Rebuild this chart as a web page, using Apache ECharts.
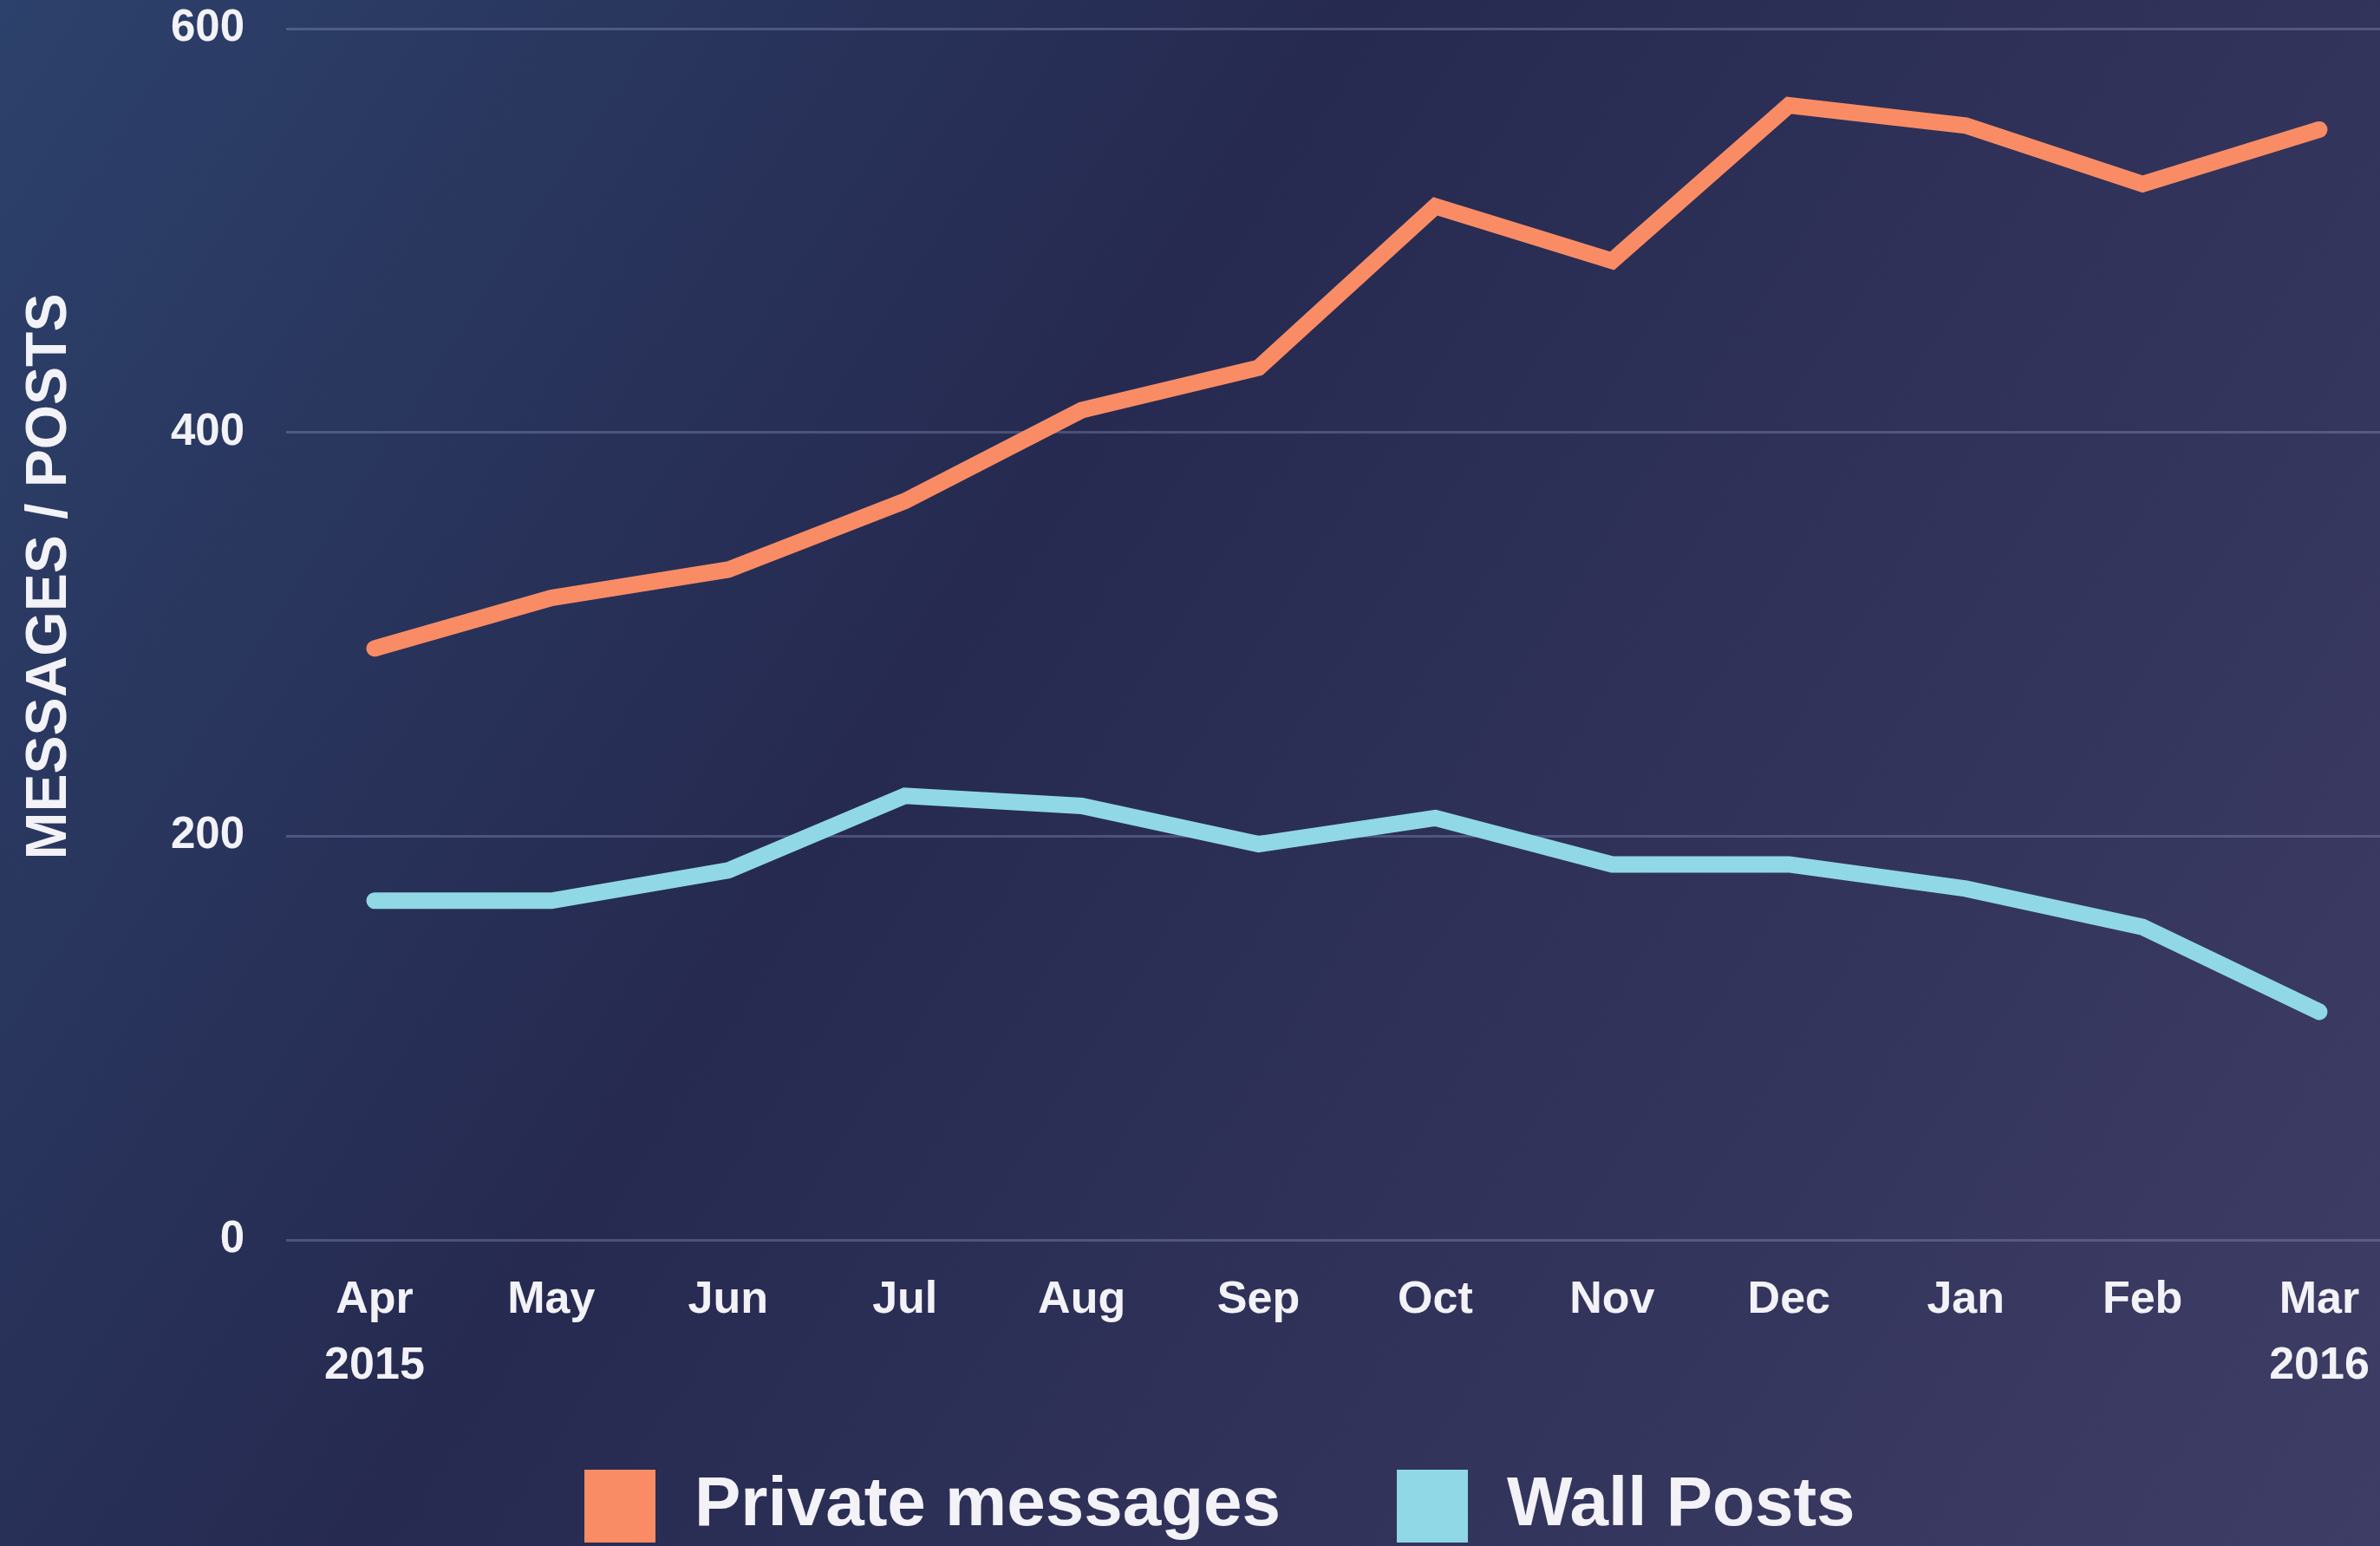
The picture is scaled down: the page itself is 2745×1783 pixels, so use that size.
<!DOCTYPE html>
<html>
<head>
<meta charset="utf-8">
<script src="https://cdn.jsdelivr.net/npm/echarts@6/dist/echarts.min.js"></script>
<style>
  html, body { margin: 0; padding: 0; width: 2745px; height: 1783px; overflow: hidden; background: #27294f; }
  #chart { width: 2745px; height: 1783px; }
</style>
</head>
<body>
<div id="chart"></div>
<script>
const months = ['Apr\n2015', 'May', 'Jun', 'Jul', 'Aug', 'Sep', 'Oct', 'Nov', 'Dec', 'Jan', 'Feb', 'Mar\n2016'];
const privateMessages = [293, 318, 332, 366, 411, 432, 512, 485, 562, 552, 523, 550];
const wallPosts = [168, 168, 183, 220, 215, 196, 209, 186, 186, 174, 155, 113];
const yTicks = [0, 200, 400, 600];
const seriesNames = ['Private messages', 'Wall Posts'];
const yAxisTitle = 'MESSAGES / POSTS';

const FONT = '"Liberation Sans", Arial, Helvetica, sans-serif';
const TEXT = '#f2f2f7';

const chart = echarts.init(document.getElementById('chart'), null, { renderer: 'canvas' });
chart.setOption({
  animation: false,
  backgroundColor: {
    type: 'linear', x: 0, y: 0, x2: 1, y2: 1,
    colorStops: [
      { offset: 0, color: '#2c416b' },
      { offset: 0.4, color: '#262a50' },
      { offset: 1, color: '#3e3d66' }
    ]
  },
  grid: { left: 330, top: 33, width: 2447, height: 1397, containLabel: false, outerBoundsMode: 'none' },
  legend: {
    data: seriesNames,
    left: 669, top: 1690,
    icon: 'rect',
    itemWidth: 82, itemHeight: 84,
    itemGap: 134,
    textStyle: { color: TEXT, fontSize: 80, fontWeight: 'bold', fontFamily: FONT, padding: [0, 0, 0, 40] }
  },
  graphic: [{
    type: 'text',
    x: 58, y: 665,
    rotation: Math.PI / 2,
    style: {
      text: yAxisTitle,
      fill: TEXT,
      font: 'bold 66px ' + FONT,
      textAlign: 'center',
      textVerticalAlign: 'middle'
    }
  }],
  xAxis: {
    type: 'category',
    data: months,
    boundaryGap: true,
    axisLine: { show: false },
    axisTick: { show: false },
    axisLabel: {
      color: TEXT, fontSize: 52, fontWeight: 'bold', fontFamily: FONT,
      lineHeight: 76, margin: 32, align: 'center', interval: 0
    },
    splitLine: { show: false }
  },
  yAxis: {
    type: 'value',
    min: yTicks[0], max: yTicks[yTicks.length - 1], interval: 200,
    axisLine: { show: false },
    axisTick: { show: false },
    axisLabel: { color: TEXT, fontSize: 51, fontWeight: 'bold', fontFamily: FONT, margin: 48 },
    splitLine: { show: true, lineStyle: { color: 'rgba(150,155,200,0.35)', width: 3 } }
  },
  series: [
    {
      name: seriesNames[0], type: 'line', data: privateMessages,
      symbol: 'none', color: '#f98c65',
      lineStyle: { width: 19, color: '#f98c65', cap: 'round', join: 'miter' }
    },
    {
      name: seriesNames[1], type: 'line', data: wallPosts,
      symbol: 'none', color: '#90d8e6',
      lineStyle: { width: 19, color: '#90d8e6', cap: 'round', join: 'miter' }
    }
  ]
});
</script>
</body>
</html>
